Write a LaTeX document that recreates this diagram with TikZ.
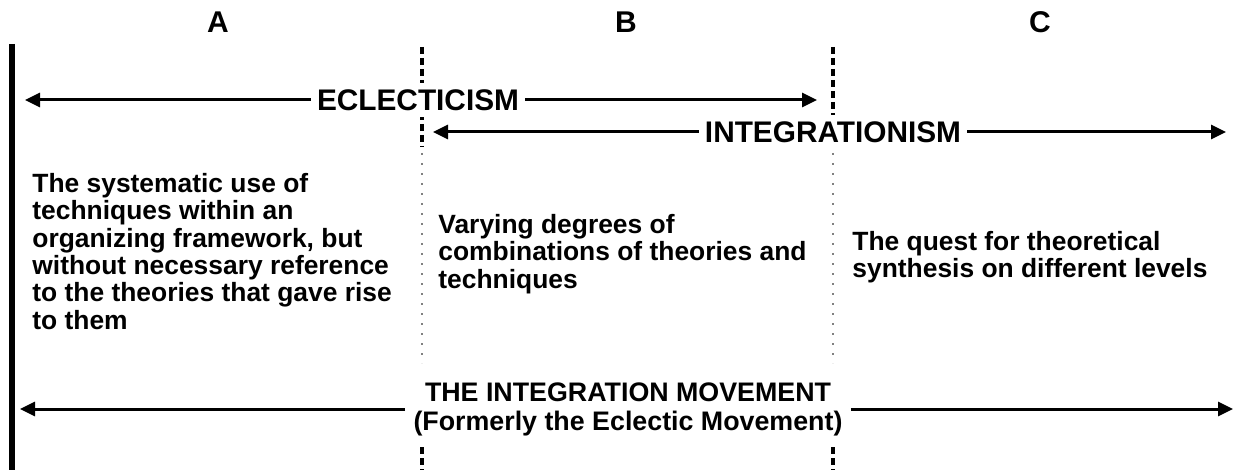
\documentclass[tikz,border=0pt]{standalone}
\usepackage{fontspec}
\setmainfont{Liberation Sans}
\usetikzlibrary{arrows.meta}

\tikzset{
  arrowline/.style={->, line width=1.5pt},
  darkdash/.style={line width=1.6pt, dash pattern=on 3.5pt off 2pt},
  greydot/.style={black!50, line width=1.1pt, dash pattern=on 1pt off 4pt},
  banner/.style={fill=white, inner sep=3pt, font=\bfseries\fontsize{14.9}{16}\selectfont},
  colhead/.style={inner sep=0pt, font=\bfseries\fontsize{15}{16}\selectfont},
  coltext/.style={anchor=north west, align=left, inner sep=0pt,
    font=\bfseries\fontsize{13.2}{13.65}\selectfont}
}

\begin{document}
\begin{tikzpicture}[x=0.5pt, y=-0.5pt, >={Triangle[length=7.5pt,width=7pt]}]
  \useasboundingbox (0,0) rectangle (1241,470);

  % Column letters
  \node[colhead] (headA) at (218,22) {A};
  \node[colhead] (headB) at (626,22) {B};
  \node[colhead] (headC) at (1040,22) {C};

  % Left border
  \draw[line width=2.6pt] (12,44) -- (12,470);

  % Column dividers
  \foreach \x in {422,833} {
    \draw[darkdash] (\x,47) -- (\x,147);
    \draw[greydot] (\x,153) -- (\x,363);
    \draw[darkdash] (\x,447) -- (\x,470);
  }

  % Eclecticism span
  \node[banner] (eclect) at (418,100) {ECLECTICISM};
  \coordinate (eclectL) at (25,100);
  \coordinate (eclectR) at (817,100);
  \draw[arrowline] (eclect.west) -- (eclectL |- eclect.west);
  \draw[arrowline] (eclect.east) -- (eclectR |- eclect.east);

  % Integrationism span
  \node[banner] (integr) at (833,132) {INTEGRATIONISM};
  \coordinate (integrL) at (433,132);
  \coordinate (integrR) at (1226,132);
  \draw[arrowline] (integr.west) -- (integrL |- integr.west);
  \draw[arrowline] (integr.east) -- (integrR |- integr.east);

  % Column descriptions
  \node[coltext] (textA) at (32,173) {The systematic use of\\techniques within an\\organizing framework, but\\without necessary reference\\to the theories that gave rise\\to them};
  \node[coltext] (textB) at (438,214) {Varying degrees of\\combinations of theories and\\techniques};
  \node[coltext] (textC) at (852,231) {The quest for theoretical\\synthesis on different levels};

  % Whole movement
  \node[banner, align=center, inner sep=4pt, font=\bfseries\fontsize{13.4}{14.5}\selectfont] (movement) at (628,409)
    {THE INTEGRATION MOVEMENT\\(Formerly the Eclectic Movement)};
  \coordinate (moveL) at (20,406);
  \coordinate (moveR) at (1233,406);
  \draw[arrowline] (movement.west) -- (moveL |- movement.west);
  \draw[arrowline] (movement.east) -- (moveR |- movement.east);
\end{tikzpicture}
\end{document}
